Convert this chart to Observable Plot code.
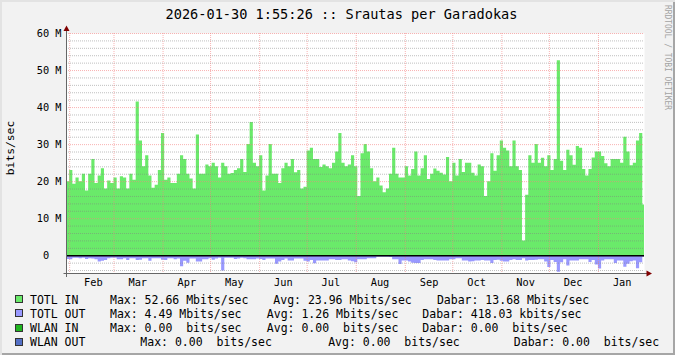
<!DOCTYPE html>
<html>
<head>
<meta charset="utf-8">
<script src="https://cdn.jsdelivr.net/npm/d3@7"></script>
<script src="https://cdn.jsdelivr.net/npm/@observablehq/plot@0.6"></script>
<style>
  html, body { margin: 0; padding: 0; background: #f2f2f2; }
  #wrap { position: relative; width: 675px; height: 355px; background: #f2f2f2; overflow: hidden;
          box-shadow: inset 2px 2px 0 #e3e3e3, inset -2px -2px 0 #a6a6a6; }
  #wrap svg { position: absolute; left: 0; top: 0; }
</style>
</head>
<body>
<div id="wrap"></div>
<script>
// ---------------- data ----------------
const startDate = "2025-01-30T00:00:00Z";   // first 2-day step
const endDate = "2026-01-30T02:00:00Z";     // graph end
const stepDays = 2;

// TOTL IN, Mbits/sec, one value per 2-day step
const totlIn = [
  20, 23, 19.3, 21, 20, 22, 17.5, 22, 26, 19.5,
  21.5, 23.5, 18, 20.2, 19.5, 21, 18, 21.3, 21, 18,
  22, 20.4, 41.5, 31, 24, 27, 21.5, 18.2, 19, 23,
  33, 20.4, 21, 19.5, 19.5, 22, 27, 26, 22, 20.7,
  18, 32.6, 22, 22, 24.5, 24, 25, 24, 21, 25,
  24, 22, 22.2, 23, 23.5, 26, 22.5, 30, 36, 25,
  24, 27, 17.5, 21.5, 30, 22, 22, 19.5, 23.5, 25,
  24, 26, 22.4, 23, 18, 18.5, 28.3, 29, 26, 26,
  23.8, 24.5, 24, 23.5, 25, 28, 33, 25, 24, 24.5,
  27, 24, 16, 27.5, 30, 28, 23.5, 20, 21, 18.8,
  17, 18, 22, 29, 22, 21, 21, 24, 21.5, 23.3,
  28, 21.5, 23.5, 27, 20.6, 22, 23.4, 22.8, 22.3, 21.8,
  26.5, 20, 25, 21.5, 26, 22.5, 25, 25, 22.3, 21.5,
  24.5, 24, 16, 20, 27.5, 22.8, 27, 31, 29, 28.3,
  24, 31, 24, 23, 4, 16.3, 27, 25, 30, 25,
  26.3, 24, 27, 23, 26, 52.66, 25.5, 23, 28.5, 27,
  24.4, 29.5, 29, 23.3, 21.5, 23.3, 26.4, 28, 28, 26.8,
  24.8, 24, 26, 26, 26, 25, 32, 28, 24.3, 25,
  31, 33, 13.68
];

// TOTL OUT, Mbits/sec (drawn below zero)
const totlOut = [
  1.0, 1.1, 0.7, 0.7, 0.8, 0.65, 1.0, 0.8, 0.9, 1.1,
  1.7, 1.5, 1.3, 0.8, 0.7, 0.7, 1.1, 1.1, 0.8, 1.3,
  0.8, 0.8, 1.3, 1.2, 0.8, 0.8, 1.5, 0.8, 0.8, 0.8,
  1.2, 1.3, 0.8, 0.8, 1.1, 0.9, 3.0, 1.5, 2.0, 0.9,
  0.9, 1.7, 1.7, 1.1, 1.1, 0.8, 1.2, 0.9, 0.7, 4.1,
  0.7, 0.7, 0.7, 1.0, 0.9, 0.7, 0.8, 1.1, 1.1, 1.1,
  0.9, 1.0, 1.3, 0.9, 0.9, 0.9, 2.3, 1.7, 1.3, 0.9,
  1.4, 1.4, 0.9, 0.9, 0.9, 1.5, 1.7, 1.3, 2.2, 1.4,
  1.4, 1.4, 1.4, 1.1, 1.1, 1.3, 1.3, 1.1, 1.1, 1.4,
  1.6, 1.9, 1.1, 1.1, 1.1, 0.8, 0.8, 0.8, 0.4, 0.4,
  0.4, 0.4, 0.5, 1.1, 1.1, 2.4, 1.4, 1.4, 1.7, 2.0,
  2.1, 2.1, 1.3, 1.1, 1.1, 1.1, 1.3, 1.4, 1.4, 1.4,
  1.4, 1.1, 1.1, 0.8, 0.8, 1.4, 1.4, 1.7, 1.6, 1.4,
  1.4, 1.3, 1.4, 1.4, 2.1, 1.3, 1.2, 1.5, 1.7, 1.7,
  1.3, 1.1, 1.3, 1.3, 0.8, 1.4, 1.3, 1.3, 1.2, 1.1,
  1.1, 1.7, 3.2, 1.3, 1.8, 4.49, 1.9, 1.1, 2.8, 1.4,
  1.4, 1.4, 1.1, 1.1, 1.1, 1.8, 1.3, 2.5, 3.6, 1.4,
  1.1, 1.1, 1.1, 2.1, 1.4, 1.4, 3.1, 2.3, 1.6, 1.4,
  3.5, 1.9, 0.42
];

const monthStarts = ["2025-02-01","2025-03-01","2025-04-01","2025-05-01","2025-06-01","2025-07-01",
                     "2025-08-01","2025-09-01","2025-10-01","2025-11-01","2025-12-01","2026-01-01"];
const monthLabels = ["Feb","Mar","Apr","May","Jun","Jul","Aug","Sep","Oct","Nov","Dec","Jan"];
const yTicks = [0, 10, 20, 30, 40, 50, 60];
const yTickLabels = ["0\u00a0\u00a0", "10 M", "20 M", "30 M", "40 M", "50 M", "60 M"];
const yMinorTicks = [-4,-2,2,4,6,8,12,14,16,18,22,24,26,28,32,34,36,38,42,44,46,48,52,54,56,58];
const yDomain = [-4.8, 60];

const titleText = "2026-01-30 1:55:26 :: Srautas per Garadokas";
const yTitle = "bits/sec";
const watermark = "RRDTOOL / TOBI OETIKER";
const legendNames = ["TOTL IN", "TOTL OUT", "WLAN IN", "WLAN OUT"];
const legendMax = ["Max: 52.66 Mbits/sec", "Max: 4.49 Mbits/sec", "Max: 0.00  bits/sec", "Max: 0.00  bits/sec"];
const legendAvg = ["Avg: 23.96 Mbits/sec", "Avg: 1.26 Mbits/sec", "Avg: 0.00  bits/sec", "Avg: 0.00  bits/sec"];
const legendNow = ["Dabar: 13.68 Mbits/sec", "Dabar: 418.03 kbits/sec", "Dabar: 0.00  bits/sec", "Dabar: 0.00  bits/sec"];

// ---------------- styles / layout ----------------
const colors = { in: "#6aea6a", out: "#9999ff", wlanIn: "#1fb51f", wlanOut: "#5470c6" };
const legendColors = [colors.in, colors.out, colors.wlanIn, colors.wlanOut];
const layout = {
  W: 675, H: 355, plotH: 295,
  mTop: 33, mBottom: 22, mLeft: 66, mRight: 31,
  rowCenters: [299.3, 313.4, 327.6, 341.7],
  maxX: [110, 110, 110, 140.3],
  avgX: [273.3, 266.8, 266.8, 328.2],
  nowX: [436.9, 422.3, 422.3, 513.8]
};
const font = "'DejaVu Sans Mono', monospace";

// ---------------- build tables ----------------
const DAY = 86400000;
const t0 = new Date(startDate).getTime();
const tEnd = new Date(endDate);
function steps(values, sign) {
  const rows = values.map((v, i) => ({ t: new Date(t0 + i * stepDays * DAY), v: sign * v }));
  rows.push({ t: tEnd, v: sign * values[values.length - 1] });
  return rows;
}
const inRows = steps(totlIn, 1);
const outRows = steps(totlOut, -1);
const monthDates = monthStarts.map(d => new Date(d + "T00:00:00Z"));
const labelDates = monthDates.map(d => new Date(d.getTime() + 15 * DAY));
const labelMap = new Map(labelDates.map((d, i) => [+d, monthLabels[i]]));
const yLabelMap = new Map(yTicks.map((d, i) => [d, yTickLabels[i]]));

const gridMinor = "rgba(128,128,128,0.5)";
const gridMajor = "rgba(245,128,128,0.6)";

const chart = Plot.plot({
  width: layout.W, height: layout.plotH,
  marginTop: layout.mTop, marginBottom: layout.mBottom, marginLeft: layout.mLeft, marginRight: layout.mRight,
  style: { fontFamily: font, fontSize: "10.3px", background: "transparent", color: "#000", overflow: "visible" },
  x: { type: "utc", domain: [new Date(t0), tEnd] },
  y: { domain: yDomain },
  marks: [
    Plot.frame({ fill: "white", stroke: "none" }),
    Plot.areaY(inRows, { x: "t", y1: 0, y2: "v", curve: "step-after", fill: colors.in }),
    Plot.areaY(outRows, { x: "t", y1: 0, y2: "v", curve: "step-after", fill: colors.out }),
    Plot.ruleY(yMinorTicks, { stroke: gridMinor, strokeWidth: 1, strokeDasharray: "1,1" }),
    Plot.ruleY(yTicks.filter(d => d !== 0), { stroke: gridMajor, strokeWidth: 1, strokeDasharray: "1,1" }),
    Plot.ruleX(monthDates, { stroke: gridMajor, strokeWidth: 1, strokeDasharray: "1,1" }),
    Plot.ruleY([0], { stroke: "#000", strokeWidth: 1.5 }),
    Plot.axisY({ ticks: yTicks, tickFormat: d => yLabelMap.get(d), tickSize: 0, tickPadding: 5, label: null }),
    Plot.axisX({ ticks: labelDates, tickFormat: d => labelMap.get(+d), tickSize: 0, tickPadding: 5.5, label: null })
  ]
});

const wrap = document.getElementById("wrap");
wrap.appendChild(chart);

// ---------------- overlay: axes lines, arrows, title, legend ----------------
const ov = d3.select(wrap).append("svg")
  .attr("width", layout.W).attr("height", layout.H)
  .style("pointer-events", "none")
  .style("font-family", font);

const axisX0 = layout.mLeft + 0.5;
const axisY0 = layout.plotH - layout.mBottom + 0.5;
const plotRight = layout.W - layout.mRight;

ov.append("line").attr("x1", axisX0).attr("x2", axisX0).attr("y1", axisY0 + 3.5).attr("y2", 28)
  .attr("stroke", "#666").attr("stroke-width", 1);
ov.append("line").attr("x1", axisX0 - 3).attr("x2", plotRight + 3).attr("y1", axisY0).attr("y2", axisY0)
  .attr("stroke", "#666").attr("stroke-width", 1);
ov.append("path").attr("d", `M${axisX0 - 3},31 L${axisX0 + 3},31 L${axisX0},25.5 Z`).attr("fill", "#800000");
ov.append("path").attr("d", `M${plotRight + 2.5},${axisY0 - 3} L${plotRight + 2.5},${axisY0 + 3} L${plotRight + 8},${axisY0} Z`).attr("fill", "#800000");

ov.append("text").attr("x", 341.5).attr("y", 19).attr("text-anchor", "middle")
  .attr("font-size", 13.6).attr("fill", "#000").text(titleText);

ov.append("text").attr("transform", "translate(14.2,148) rotate(-90)").attr("text-anchor", "middle")
  .attr("font-size", 11.3).attr("fill", "#000").text(yTitle);

ov.append("text").attr("transform", "translate(665,5) rotate(90)")
  .attr("font-size", 8.5).attr("fill", "#a3a3a3")
  .attr("textLength", 105).attr("lengthAdjust", "spacingAndGlyphs").text(watermark);

legendNames.forEach((name, i) => {
  const cy = layout.rowCenters[i];
  const base = cy + 4.2;
  ov.append("rect").attr("x", 15.5).attr("y", Math.round(cy - 4) + 0.5).attr("width", 7).attr("height", 7)
    .attr("fill", legendColors[i]).attr("stroke", "#333").attr("stroke-width", 1);
  const g = ov.append("g").attr("font-size", 11.5).attr("fill", "#000").style("white-space", "pre");
  g.append("text").attr("x", 30).attr("y", base).text(name);
  g.append("text").attr("x", layout.maxX[i]).attr("y", base).attr("xml:space", "preserve").text(legendMax[i].replace(/  /g, " \u00a0"));
  g.append("text").attr("x", layout.avgX[i]).attr("y", base).text(legendAvg[i].replace(/  /g, " \u00a0"));
  g.append("text").attr("x", layout.nowX[i]).attr("y", base).text(legendNow[i].replace(/  /g, " \u00a0"));
});
</script>
</body>
</html>
